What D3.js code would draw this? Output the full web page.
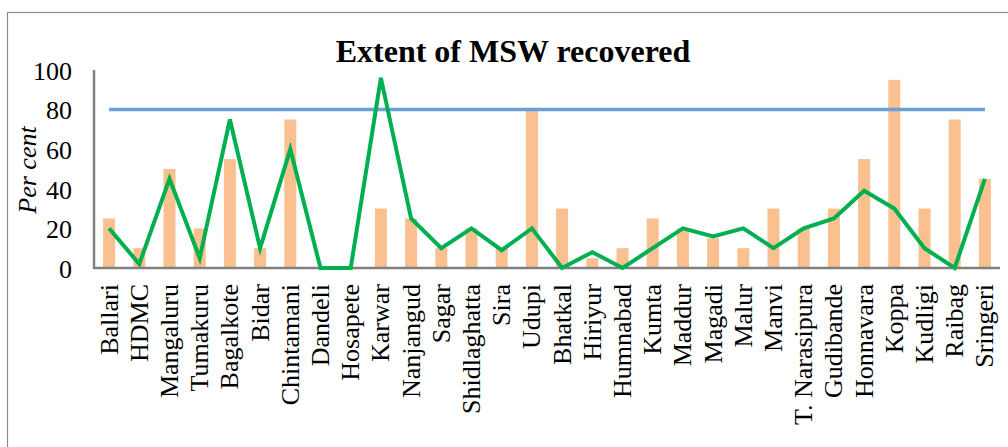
<!DOCTYPE html>
<html>
<head>
<meta charset="utf-8">
<script src="https://cdn.jsdelivr.net/npm/d3@7"></script>
<style>
  body { margin: 0; background: #fff; }
  svg { display: block; font-family: "Liberation Serif", "Times New Roman", serif; }
  svg text { font-family: "Liberation Serif", "Times New Roman", serif; }
</style>
</head>
<body>
<script>
  const towns = [
    "Ballari", "HDMC", "Mangaluru", "Tumakuru", "Bagalkote", "Bidar",
    "Chintamani", "Dandeli", "Hosapete", "Karwar", "Nanjangud", "Sagar",
    "Shidlaghatta", "Sira", "Udupi", "Bhatkal", "Hiriyur", "Humnabad",
    "Kumta", "Maddur", "Magadi", "Malur", "Manvi", "T. Narasipura",
    "Gudibande", "Honnavara", "Koppa", "Kudligi", "Raibag", "Sringeri",
  ];
  // orange bars
  const barValues = [
    25, 10, 50, 20, 55, 10, 75, 0, 0, 30, 25, 10, 20, 10, 80, 30, 5, 10,
    25, 20, 15, 10, 30, 20, 30, 55, 95, 30, 75, 45,
  ];
  // green line
  const recovered = [
    20, 2, 45, 5, 75, 10, 60, 0, 0, 96, 25, 10, 20, 9, 20, 0, 8, 0,
    10, 20, 16, 20, 10, 20, 25, 39, 30, 10, 0, 45,
  ];
  const target = 80;
  const yTicks = [0, 20, 40, 60, 80, 100];

  const W = 1008, H = 447;
  const margin = { top: 70, right: 8, bottom: 179, left: 94 };

  const svg = d3.select("body").append("svg")
    .attr("width", W).attr("height", H);

  // outer chart frame
  svg.append("rect")
    .attr("x", 7.5).attr("y", 12.5)
    .attr("width", W + 10).attr("height", H + 10)
    .attr("fill", "none").attr("stroke", "#8c8c8c").attr("stroke-width", 1.2);

  const x = d3.scaleBand()
    .domain(towns)
    .range([margin.left, W - margin.right]);

  const y = d3.scaleLinear()
    .domain([0, 100])
    .range([H - margin.bottom, margin.top]);

  const cx = (d) => x(d) + x.bandwidth() / 2;

  // bars
  svg.append("g")
    .selectAll("rect")
    .data(towns)
    .enter()
    .append("rect")
    .attr("x", (d) => cx(d) - 6)
    .attr("width", 12)
    .attr("y", (d, i) => y(barValues[i]))
    .attr("height", (d, i) => y(0) - y(barValues[i]))
    .attr("fill", "#fac090");

  // axes
  const yAxis = svg.append("g")
    .attr("transform", `translate(${margin.left},0)`)
    .call(d3.axisLeft(y).tickValues(yTicks).tickSize(0).tickSizeOuter(0).tickPadding(22));
  yAxis.attr("font-family", null);
  yAxis.select(".domain").remove();
  yAxis.selectAll("text")
    .attr("font-size", 26).attr("fill", "#000")
    .attr("dy", "0.36em");

  const xAxis = svg.append("g")
    .attr("transform", `translate(0,${y(0)})`)
    .call(d3.axisBottom(x).tickSize(0).tickSizeOuter(0));
  xAxis.attr("font-family", null);
  xAxis.select(".domain").remove();
  xAxis.selectAll("text")
    .attr("font-size", 26).attr("fill", "#000")
    .attr("text-anchor", "end")
    .attr("transform", "rotate(-90)")
    .attr("x", -16).attr("y", 0).attr("dy", "0.33em");

  // axis lines
  svg.append("line")
    .attr("x1", margin.left).attr("x2", margin.left)
    .attr("y1", y(0) + 1).attr("y2", y(100))
    .attr("stroke", "#808080").attr("stroke-width", 2.5);
  svg.append("line")
    .attr("x1", margin.left).attr("x2", W - margin.right)
    .attr("y1", y(0)).attr("y2", y(0))
    .attr("stroke", "#808080").attr("stroke-width", 2.5);

  // target line
  svg.append("line")
    .attr("x1", cx(towns[0]))
    .attr("x2", cx(towns[towns.length - 1]))
    .attr("y1", y(target)).attr("y2", y(target))
    .attr("stroke", "#6a9fd8").attr("stroke-width", 3.5);

  // recovered line
  const line = d3.line()
    .x((d, i) => cx(towns[i]))
    .y((d) => y(d));
  svg.append("path")
    .datum(recovered)
    .attr("d", line)
    .attr("fill", "none")
    .attr("stroke", "#00b050")
    .attr("stroke-width", 4)
    .attr("stroke-linejoin", "miter");

  // titles
  svg.append("text")
    .attr("x", 513).attr("y", 62)
    .attr("text-anchor", "middle")
    .attr("font-size", 32).attr("font-weight", "bold")
    .text("Extent of MSW recovered");

  svg.append("text")
    .attr("transform", `translate(36,170) rotate(-90)`)
    .attr("text-anchor", "middle")
    .attr("font-size", 26).attr("font-style", "italic")
    .text("Per cent");
</script>
</body>
</html>
